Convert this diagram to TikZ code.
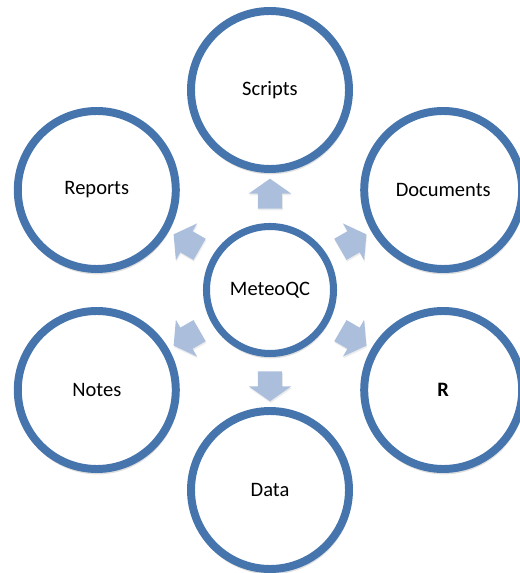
\documentclass[tikz,border=0pt]{standalone}
\usepackage{fontspec}
\setmainfont{Carlito}
\usepackage{tikz}
\usetikzlibrary{shapes,arrows,shadows}

\definecolor{ringblue}{HTML}{4674AC}
\definecolor{flowblue}{HTML}{ABBFDD}

\begin{document}
\begin{tikzpicture}[
        x=0.03cm, y=0.03cm,
        hub/.style={circle, draw=ringblue, fill=white, line width=6pt, minimum size=3.81cm, inner sep=0pt, font=\fontsize{17.5}{20}\selectfont, drop shadow={shadow xshift=0.6pt, shadow yshift=-2.5pt, shadow scale=1.03, opacity=0.25}},
        leaf/.style={circle, draw=ringblue, fill=white, line width=6.8pt, minimum size=4.74cm, inner sep=0pt, font=\fontsize{17.5}{20}\selectfont, drop shadow={shadow xshift=0.6pt, shadow yshift=-2.5pt, shadow scale=1.03, opacity=0.25}},
        flow/.style={single arrow, draw=none, fill=flowblue, minimum width=1.26cm, minimum height=0.9cm, inner xsep=0pt, inner ysep=0.36cm, single arrow head extend=0.27cm, single arrow tip angle=110, sloped, allow upside down, drop shadow={shadow xshift=0.5pt, shadow yshift=-1.5pt, opacity=0.15}}
    ]

    \useasboundingbox (-270,-283) rectangle (249,290);

    % Centre
    \node[hub] (meteoqc) at (0,0) {MeteoQC};

    % Ring of topics
    \node[leaf] (scripts) at (90:200) {Scripts};
    \node[leaf] (documents) at (30:200) {Documents};
    \node[leaf] (r) at (-30:200) {\textbf{R}};
    \node[leaf] (data) at (-90:200) {Data};
    \node[leaf] (notes) at (210:200) {Notes};
    \node[leaf] (reports) at (150:200) {Reports};

    % Block arrows pointing out of the centre
    \path (meteoqc) -- node[flow] {} (scripts);
    \path (meteoqc) -- node[flow] {} (documents);
    \path (meteoqc) -- node[flow] {} (r);
    \path (meteoqc) -- node[flow] {} (data);
    \path (meteoqc) -- node[flow] {} (notes);
    \path (meteoqc) -- node[flow] {} (reports);

\end{tikzpicture}
\end{document}
